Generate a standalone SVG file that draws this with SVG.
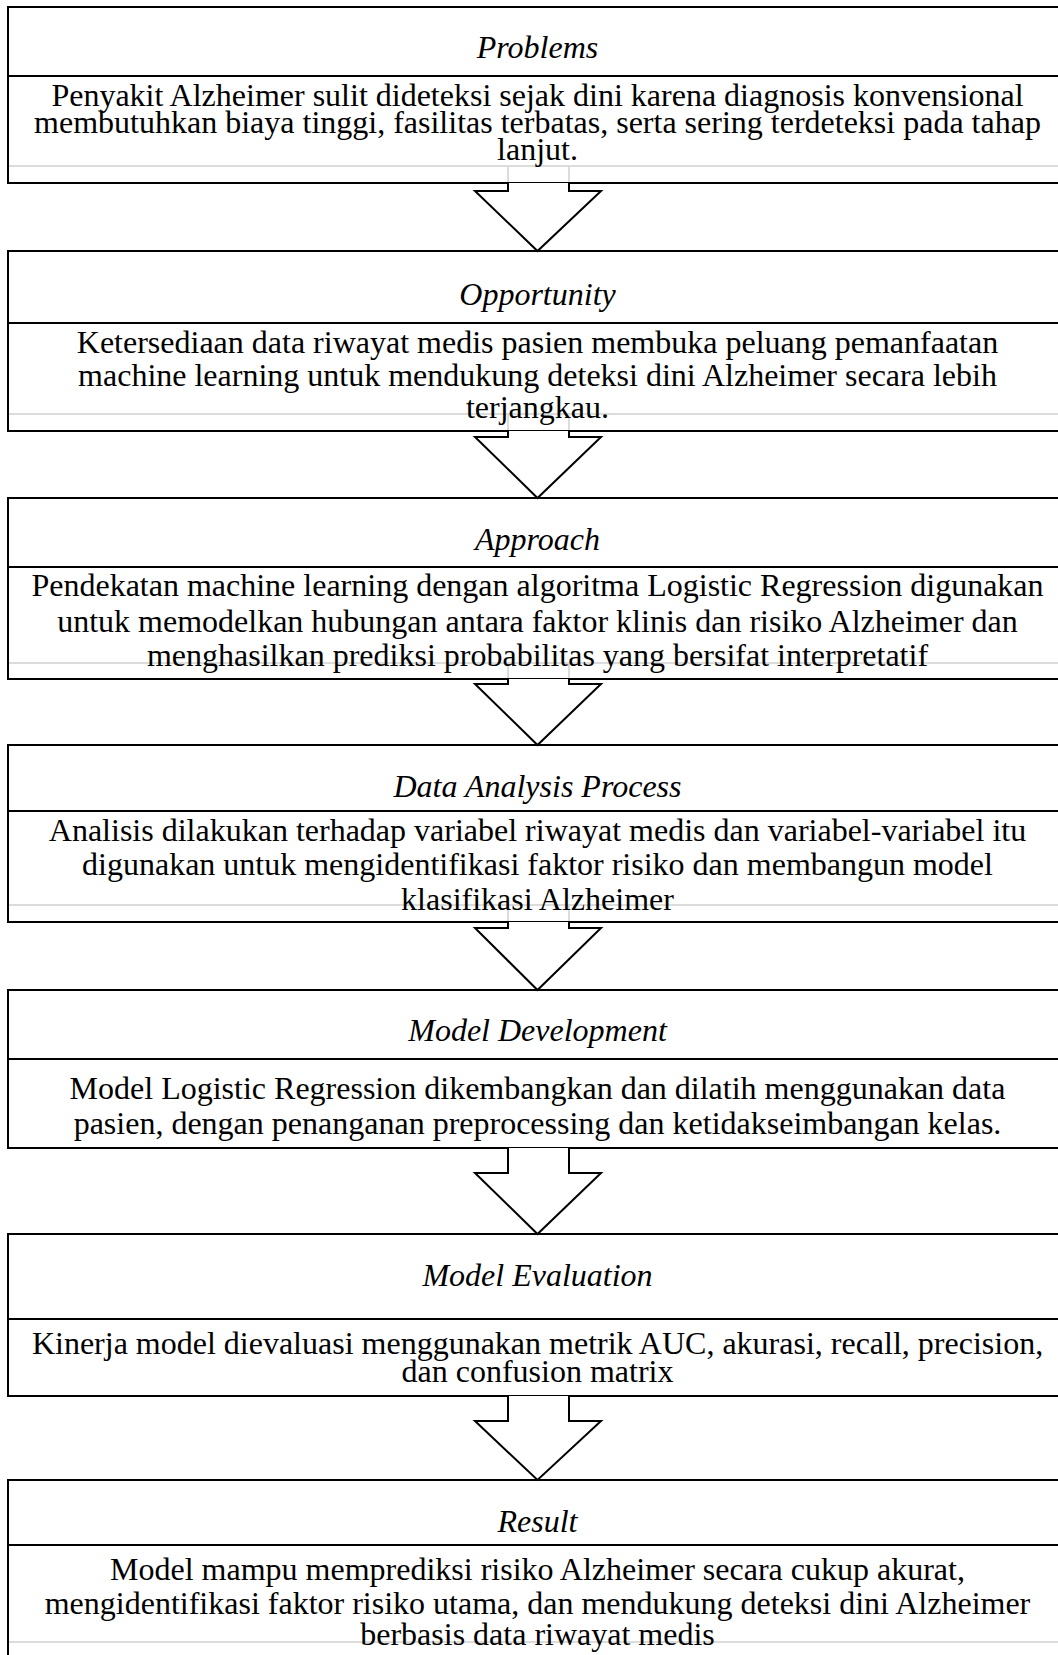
<svg xmlns="http://www.w3.org/2000/svg" width="1058" height="1655" viewBox="0 0 1058 1655">
<style>
.box{fill:#fff;stroke:#000;stroke-width:2}
.div{stroke:#000;stroke-width:2}
.ghost{stroke:#dcdcdc;stroke-width:2;fill:none}
.title{font-family:"Liberation Serif","Times New Roman",serif;font-style:italic;font-size:32px;text-anchor:middle;fill:#000}
.body{font-family:"Liberation Serif","Times New Roman",serif;font-size:32px;text-anchor:middle;fill:#000}
.arrow{fill:#fff;stroke:#000;stroke-width:2;stroke-linejoin:miter}
</style>
<rect width="1058" height="1655" fill="#fff"/>
<g id="problems">
<rect class="box" x="8" y="7" width="1070" height="176"/>
<line class="div" x1="8" y1="76" x2="1078" y2="76"/>
<line class="ghost" x1="9" y1="166" x2="1058" y2="166"/>
<line class="ghost" x1="508" y1="166" x2="508" y2="182"/>
<line class="ghost" x1="569" y1="166" x2="569" y2="182"/>
<text class="title" x="537.5" y="58">Problems</text>
<text class="body" x="537.5" y="106">Penyakit Alzheimer sulit dideteksi sejak dini karena diagnosis konvensional</text>
<text class="body" x="537.5" y="133">membutuhkan biaya tinggi, fasilitas terbatas, serta sering terdeteksi pada tahap</text>
<text class="body" x="537.5" y="160">lanjut.</text>
</g>
<g id="opportunity">
<rect class="box" x="8" y="251" width="1070" height="180"/>
<line class="div" x1="8" y1="323" x2="1078" y2="323"/>
<line class="ghost" x1="9" y1="414" x2="1058" y2="414"/>
<line class="ghost" x1="508" y1="414" x2="508" y2="430"/>
<line class="ghost" x1="569" y1="414" x2="569" y2="430"/>
<text class="title" x="537.5" y="305">Opportunity</text>
<text class="body" x="537.5" y="353">Ketersediaan data riwayat medis pasien membuka peluang pemanfaatan</text>
<text class="body" x="537.5" y="386">machine learning untuk mendukung deteksi dini Alzheimer secara lebih</text>
<text class="body" x="537.5" y="418">terjangkau.</text>
</g>
<g id="approach">
<rect class="box" x="8" y="498" width="1070" height="181"/>
<line class="div" x1="8" y1="567" x2="1078" y2="567"/>
<line class="ghost" x1="9" y1="663" x2="1058" y2="663"/>
<line class="ghost" x1="508" y1="663" x2="508" y2="678"/>
<line class="ghost" x1="569" y1="663" x2="569" y2="678"/>
<text class="title" x="537.5" y="550">Approach</text>
<text class="body" x="537.5" y="596">Pendekatan machine learning dengan algoritma Logistic Regression digunakan</text>
<text class="body" x="537.5" y="632">untuk memodelkan hubungan antara faktor klinis dan risiko Alzheimer dan</text>
<text class="body" x="537.5" y="666">menghasilkan prediksi probabilitas yang bersifat interpretatif</text>
</g>
<g id="data-analysis">
<rect class="box" x="8" y="745" width="1070" height="177"/>
<line class="div" x1="8" y1="811" x2="1078" y2="811"/>
<line class="ghost" x1="9" y1="905" x2="1058" y2="905"/>
<line class="ghost" x1="508" y1="905" x2="508" y2="921"/>
<line class="ghost" x1="569" y1="905" x2="569" y2="921"/>
<text class="title" x="537.5" y="797">Data Analysis Process</text>
<text class="body" x="537.5" y="841">Analisis dilakukan terhadap variabel riwayat medis dan variabel-variabel itu</text>
<text class="body" x="537.5" y="875">digunakan untuk mengidentifikasi faktor risiko dan membangun model</text>
<text class="body" x="537.5" y="910">klasifikasi Alzheimer</text>
</g>
<g id="model-development">
<rect class="box" x="8" y="990" width="1070" height="158"/>
<line class="div" x1="8" y1="1059" x2="1078" y2="1059"/>
<text class="title" x="537.5" y="1041">Model Development</text>
<text class="body" x="537.5" y="1099">Model Logistic Regression dikembangkan dan dilatih menggunakan data</text>
<text class="body" x="537.5" y="1134">pasien, dengan penanganan preprocessing dan ketidakseimbangan kelas.</text>
</g>
<g id="model-evaluation">
<rect class="box" x="8" y="1234" width="1070" height="162"/>
<line class="div" x1="8" y1="1319" x2="1078" y2="1319"/>
<text class="title" x="537.5" y="1286">Model Evaluation</text>
<text class="body" x="537.5" y="1354">Kinerja model dievaluasi menggunakan metrik AUC, akurasi, recall, precision,</text>
<text class="body" x="537.5" y="1382">dan confusion matrix</text>
</g>
<g id="result">
<rect class="box" x="8" y="1480" width="1070" height="200"/>
<line class="div" x1="8" y1="1545" x2="1078" y2="1545"/>
<line class="ghost" x1="9" y1="1642" x2="1058" y2="1642"/>
<text class="title" x="537.5" y="1532">Result</text>
<text class="body" x="537.5" y="1580">Model mampu memprediksi risiko Alzheimer secara cukup akurat,</text>
<text class="body" x="537.5" y="1614">mengidentifikasi faktor risiko utama, dan mendukung deteksi dini Alzheimer</text>
<text class="body" x="537.5" y="1645">berbasis data riwayat medis</text>
</g>
<g id="connectors">
<path class="arrow" d="M508,183 L508,191 L475,191 L537.5,251 L601,191 L569,191 L569,183"/>
<path class="arrow" d="M508,431 L508,437 L475,437 L537.5,498 L601,437 L569,437 L569,431"/>
<path class="arrow" d="M508,679 L508,684 L475,684 L537.5,745 L601,684 L569,684 L569,679"/>
<path class="arrow" d="M508,922 L508,928 L475,928 L537.5,990 L601,928 L569,928 L569,922"/>
<path class="arrow" d="M508,1148 L508,1173 L475,1173 L537.5,1234 L601,1173 L569,1173 L569,1148"/>
<path class="arrow" d="M508,1396 L508,1421 L475,1421 L537.5,1480 L601,1421 L569,1421 L569,1396"/>
</g>
</svg>
